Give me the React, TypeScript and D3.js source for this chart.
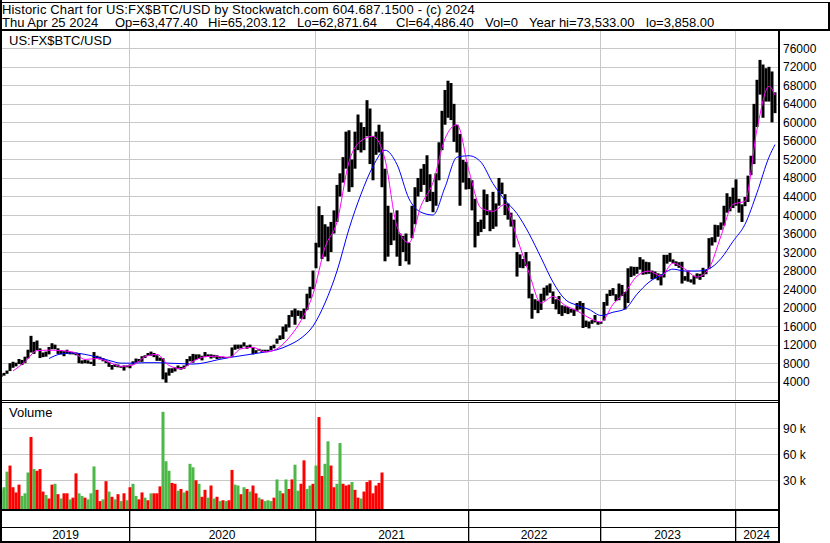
import React from 'react';
import * as d3 from 'd3';

// ---------- DATA (prices in thousands of USD, volume in thousands) ----------
const years = ['2019', '2020', '2021', '2022', '2023', '2024'];

const high2019 = [5.6,5.9,6.4,8.0,8.3,8.1,8.9,8.7,9.4,10.9,13.9,12.6,12.9,11.2,10.3,10.5,11.5,12.3,12.0,11.2,10.8,10.6,10.9,10.5,10.4,10.3,10.1,8.6,8.7,8.6,8.3,10.4,9.6,9.4,9.1,8.6,8.3,7.6,7.8,7.7,7.4,7.5,7.5];
const low2019 = [5.0,5.3,5.7,6.3,7.0,7.3,7.8,7.6,8.0,9.0,10.3,10.0,10.8,9.1,9.3,9.4,9.9,11.0,11.0,10.0,9.9,9.5,10.0,9.9,9.9,9.7,8.0,7.9,8.0,7.9,7.8,7.4,9.0,8.8,8.4,8.0,7.2,6.6,7.2,7.1,7.0,6.4,7.1];

const high2020 = [7.7,8.4,9.0,8.9,9.5,9.7,10.2,10.5,10.2,9.7,9.2,9.1,6.0,6.9,6.9,7.1,7.5,7.2,7.5,8.9,9.5,10.0,9.9,9.9,9.6,10.4,9.9,9.9,9.8,9.7,9.3,9.4,9.3,9.4,11.4,12.0,12.0,12.0,12.5,11.8,12.0,11.5,10.8,11.1,10.9,10.9,10.9,11.7,12.0,13.3,14.0,15.9,16.4,18.4,19.4,19.8,19.4,19.3,19.8,23.0,24.5,28.0];
const low2020 = [6.9,7.7,8.1,8.3,8.3,9.1,9.6,9.6,9.3,8.5,8.5,4.5,3.8,5.3,5.9,6.2,6.7,6.6,6.8,7.4,8.4,8.1,8.7,8.9,8.6,9.3,9.5,9.0,9.2,8.9,9.0,9.1,9.1,9.1,9.4,10.9,11.1,11.2,11.6,11.1,11.3,9.9,10.2,10.7,10.3,10.5,10.4,10.8,11.2,12.2,13.0,13.2,14.8,15.7,18.0,16.3,18.2,17.6,17.5,19.5,22.0,24.0];

const high2021 = [34,41.9,40,38,37.5,38.5,41,46.5,49,52.5,58,58.3,52,58,61.7,60,59,64.8,63,57,58,59.5,58,50,42,40.5,39,41,36,35.5,36,34,42,46,48,50,51,52.9,48.8,45,49,55.7,62.5,67,69,68.5,64,59.5,57.5,51.9,51.5];
const low2021 = [28.5,33,30.5,31,30,32,36,38.5,44,47,50,45,46,50,54,53.5,54,57,51,47.5,53,53.5,46,30,31,33.5,34.5,31,29,32,30,29.3,35,38,44,45,46.5,42.8,43,40.6,42,47.5,54,59.5,61,60.5,55.8,53.5,42,47,45.5];

const high2022 = [48,47.5,43.5,38.5,39,45.5,44.5,41,45,42.5,48,47,44.5,42.5,40.5,39,32,31.5,30.5,32,30,23,21.8,21.5,23,24.3,24.8,25.2,23.5,21.8,22.5,20.5,20.3,20.1,19.7,19.6,21.0,21.4,21.0,17.2,17.0,17.3,18.4,17.0];
const low2022 = [45.6,41,33,35.5,36.3,37,40,36.5,37,37.5,42,44.5,40,39,37.5,33,26.7,28.6,28.5,29,22,17.6,19.5,18.8,19.5,21.5,22.6,23.2,20.8,19.6,18.6,18.2,18.8,18.6,18.9,18.2,19.2,19.6,15.6,15.8,15.5,16.5,16.8,16.3];

const high2023 = [16.9,21.2,23.0,23.8,24.2,22.9,25.2,24.9,23.4,28.5,28.9,28.8,28.8,30.9,30.4,29.9,29.8,28.0,27.8,27.4,27.2,31.4,31.4,31.8,30.4,30.0,29.8,29.9,26.8,28.0,26.1,26.9,27.4,27.3,28.6,28.1,35.0,35.2,37.9,37.8,38.4,42.0,44.7,43.9,45.9];
const low2023 = [16.5,17.2,20.4,22.5,22.6,21.4,21.6,22.5,19.6,21.0,26.6,26.9,27.3,28.2,27.1,27.2,27.3,26.1,26.3,25.9,24.8,26.5,29.5,29.9,29.6,29.0,28.6,25.2,25.8,25.6,25.4,25.0,26.3,26.0,26.6,27.2,28.3,33.4,34.1,35.3,36.8,37.7,40.5,40.8,41.5];

const high2024 = [47.7,43.5,42.3,43.9,48.5,52.8,64.0,69.2,73.5,72.5,71.7,72.0,71.0,66.5];
const low2024 = [42.0,40.5,38.5,41.9,42.8,48.6,51.0,59.0,66.0,61.0,64.5,64.5,60.0,62.0];

// fast (magenta) moving average, read every 4th bar starting at bar 4, plus last bar
const maFast = [6.3,8.3,10.7,10.8,10.7,10.4,8.8,9.0,8.2,7.3,7.6,9.4,9.9,7.5,6.8,8.4,9.4,9.5,9.2,11.1,11.4,10.4,11.1,13.5,17.2,22.9,33.0,38.5,51.5,56.0,57.0,52.0,37.5,34.0,42.0,47.0,56.5,59.5,49.5,41.5,40.8,42.3,35.0,27.5,21.0,22.4,20.5,19.3,17.8,16.9,20.7,23.3,26.8,27.9,26.8,29.6,28.3,26.6,28.5,35.5,42.3,43.0,58.5,67.8];
const maFastLast = 65.9;
// slow (blue) moving average, every 4th bar starting at bar 16, plus last bar
const maSlow = [9.0,10.0,10.2,9.9,9.3,8.6,8.0,8.0,8.1,8.1,8.0,7.9,7.8,8.1,8.7,9.2,9.6,10.0,10.4,10.9,11.9,13.4,16.0,21.0,27.9,37.0,44.5,50.5,54.0,50.9,43.5,40.6,40.0,46.0,52.5,52.8,51.4,46.8,43.2,40.3,36.0,30.8,25.5,21.8,20.5,19.6,18.3,19.0,19.7,22.9,25.5,27.0,28.3,27.9,27.9,28.4,30.6,34.3,38.0,44.8,52.5];
const maSlowLast = 55.2;

// volume (thousands) for the first bars, with up (g) / down (r) colour code
const volume = [19,22,40,47,22,16,25,12,15,39,80,43,41,43,17,13,9,25,26,14,9,15,15,8,10,38,15,12,10,8,15,46,19,6,8,29,17,11,8,14,6,15,7,22,26,12,8,16,10,7,15,15,15,23,109,52,41,27,26,18,20,16,18,49,45,30,26,11,19,10,24,9,11,6,7,6,7,42,25,24,14,22,20,17,24,15,10,8,6,7,6,10,31,18,15,31,20,31,48,18,26,53,20,24,26,47,103,35,49,75,47,22,26,73,26,24,25,28,19,10,9,17,28,30,15,24,27,39];
const volumeDir = 'gggrrrrgggrgrrrgrrgrgrrgrrggrgggrrgrgrgrgrgrggrrgrgrrrgggrrgrgrggrgrrgrgrgrgrrggrgrgrrgrgggrggrgrrggrrggrgrrggrrggrrrgrrg';

const priceTicks = [4000,8000,12000,16000,20000,24000,28000,32000,36000,40000,44000,48000,52000,56000,60000,64000,68000,72000,76000];
const volumeTicks = [30000, 60000, 90000];
const volumeTickLabels = ['30 k', '60 k', '90 k'];

const headerLine1 = 'Historic Chart for US:FX$BTC/USD by Stockwatch.com 604.687.1500 - (c) 2024';
const headerFields = ['Thu Apr 25 2024', 'Op=63,477.40', 'Hi=65,203.12', 'Lo=62,871.64', 'Cl=64,486.40', 'Vol=0', 'Year hi=73,533.00', 'lo=3,858.00'];
const symbolLabel = 'US:FX$BTC/USD';

// ---------- LAYOUT ----------
const W = 830, H = 543;
const PL = 2, PR = 778;
const priceTop = 31, priceBottom = 400;
const volTop = 403, volBottom = 509;
const FONT = '"Liberation Sans", Arial, sans-serif';
const GRID = '#c8c8c8';
const GREEN = '#4db848';
const RED = '#ff0000';

export default function App() {
  const highs = [high2019, high2020, high2021, high2022, high2023, high2024];
  const lows = [low2019, low2020, low2021, low2022, low2023, low2024];
  const bars: { i: number; h: number; l: number }[] = [];
  const yearStart: number[] = [];
  highs.forEach((arr, y) => {
    yearStart.push(bars.length);
    arr.forEach((h, k) => bars.push({ i: bars.length, h: h * 1000, l: lows[y][k] * 1000 }));
  });
  const N = bars.length;

  const x = d3.scaleLinear().domain([0, N - 1]).range([1, 775]);
  const y = d3.scaleLinear().domain([0, 80000]).range([400.2, 29.8]);
  const vy = d3.scaleLinear().domain([0, 90000]).range([506.3, 428.3]);

  const fastPts = maFast.map((v, k) => ({ i: 4 + 4 * k, v: v * 1000 })).concat([{ i: N - 1, v: maFastLast * 1000 }]);
  const slowPts = maSlow.map((v, k) => ({ i: 16 + 4 * k, v: v * 1000 })).concat([{ i: N - 1, v: maSlowLast * 1000 }]);
  const line = d3.line<{ i: number; v: number }>().x(d => x(d.i)).y(d => y(d.v)).curve(d3.curveMonotoneX);

  const boundaries = yearStart.slice(1).map(s => Math.round(x(s - 0.5)));
  const edges = [PL, ...boundaries, PR];
  const crisp = (v: number) => Math.round(v) + 0.5;

  const fieldX = [2, 115, 208, 297, 396, 485, 529, 646];

  return (
    <svg width={W} height={H} style={{ position: 'absolute', left: 0, top: 0, background: '#fff' }} fontFamily={FONT}>
      <defs>
        <clipPath id="pclip"><rect x={PL} y={priceTop} width={PR - PL} height={priceBottom - priceTop} /></clipPath>
      </defs>
      <rect x={0} y={0} width={W} height={H} fill="#fff" />

      {/* header */}
      <rect x={0} y={2} width={830} height={1} fill="#000" />
      <rect x={828} y={2} width={2} height={29} fill="#000" />
      <text x={2} y={13.5} fontSize={13} letterSpacing={0.15} fill="#000">{headerLine1}</text>
      {headerFields.map((t, k) => (
        <text key={k} x={fieldX[k]} y={27} fontSize={13} fill="#000">{t}</text>
      ))}
      <rect x={0} y={29} width={830} height={2} fill="#000" />

      {/* price grid */}
      {priceTicks.map(t => (
        <line key={t} x1={PL} x2={PR} y1={crisp(y(t))} y2={crisp(y(t))} stroke={GRID} strokeWidth={1} />
      ))}
      {boundaries.map((b, k) => (
        <line key={k} x1={b + 0.5} x2={b + 0.5} y1={priceTop} y2={priceBottom} stroke={GRID} strokeWidth={1} />
      ))}

      {/* volume grid */}
      {volumeTicks.map(t => (
        <line key={t} x1={PL} x2={PR} y1={crisp(vy(t))} y2={crisp(vy(t))} stroke={GRID} strokeWidth={1} />
      ))}
      {boundaries.map((b, k) => (
        <line key={k} x1={b + 0.5} x2={b + 0.5} y1={volTop} y2={volBottom} stroke={GRID} strokeWidth={1} />
      ))}

      {/* price bars */}
      <g clipPath="url(#pclip)">
        {bars.map(b => (
          <rect key={b.i} x={Math.round(x(b.i)) - 1.5} y={y(b.h)} width={3} height={Math.max(1, y(b.l) - y(b.h))} fill="#000" />
        ))}
        <path d={line(slowPts) || ''} fill="none" stroke="#0000ff" strokeWidth={1} />
        <path d={line(fastPts) || ''} fill="none" stroke="#ff00ff" strokeWidth={1} />
      </g>

      {/* volume bars */}
      {volume.map((v, i) => (
        <rect key={i} x={Math.round(x(i)) - 1.5} y={vy(v * 1000)} width={3} height={volBottom - vy(v * 1000)}
          fill={volumeDir[i] === 'g' ? GREEN : RED} />
      ))}

      {/* labels */}
      <text x={9} y={45} fontSize={13} fill="#000">{symbolLabel}</text>
      <text x={9} y={417} fontSize={13} fill="#000">Volume</text>

      {/* price axis labels */}
      {priceTicks.map(t => (
        <text key={t} x={783} y={y(t) + 4.5} fontSize={12} fill="#000">{t}</text>
      ))}
      {volumeTicks.map((t, k) => (
        <text key={t} x={783} y={vy(t) + 4.5} fontSize={12} fill="#000">{volumeTickLabels[k]}</text>
      ))}

      {/* frames */}
      <rect x={0} y={0} width={2} height={H} fill="#000" />
      <rect x={PR} y={priceTop} width={2} height={H - priceTop} fill="#000" />
      <rect x={PL} y={400} width={PR - PL} height={1} fill="#000" />
      <rect x={PL} y={402} width={PR - PL} height={1} fill="#000" />
      <rect x={PL} y={509} width={PR - PL} height={2} fill="#000" />
      <rect x={PL} y={527} width={PR - PL} height={1} fill="#000" />
      <rect x={PL} y={541} width={PR - PL} height={2} fill="#000" />
      {boundaries.map((b, k) => (
        <rect key={k} x={b} y={511} width={1.3} height={30} fill="#000" />
      ))}

      {/* year labels */}
      {years.map((yr, k) => (
        <text key={yr} x={(edges[k] + edges[k + 1]) / 2} y={539} fontSize={12} textAnchor="middle" fill="#000">{yr}</text>
      ))}
    </svg>
  );
}
